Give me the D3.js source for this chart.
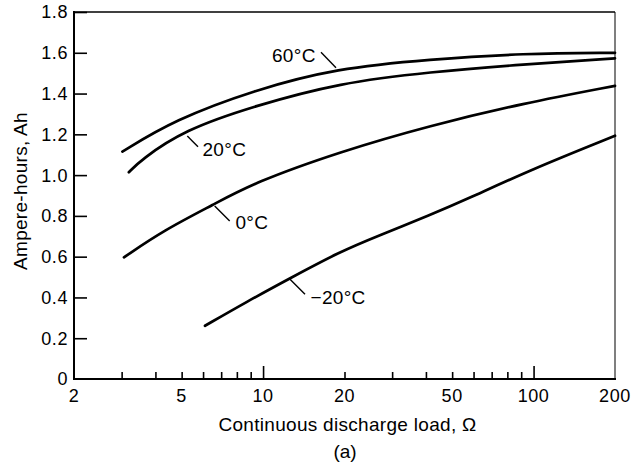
<!DOCTYPE html>
<html>
<head>
<meta charset="utf-8">
<script src="https://cdn.jsdelivr.net/npm/d3@7"></script>
<style>
  body { margin: 0; background: #fff; }
  text { font-family: "Liberation Sans", Arial, sans-serif; fill: #000; }
</style>
</head>
<body>
<div id="chart"></div>
<script>
// load in ohms, capacity in Ah
const load60 = [3.02, 4.69, 9.26, 18.7, 41.4, 91.6, 200];
const ah60 = [1.115, 1.27, 1.417, 1.524, 1.568, 1.597, 1.6];
const load20 = [3.19, 3.53, 5.1, 9.26, 19.25, 41.4, 91.6, 200];
const ah20 = [1.014, 1.074, 1.221, 1.339, 1.453, 1.506, 1.543, 1.573];
const load0 = [3.06, 4.3, 6.59, 9.26, 19.25, 41.4, 91.6, 200];
const ah0 = [0.597, 0.73, 0.857, 0.963, 1.115, 1.243, 1.352, 1.438];
const loadM20 = [6.1, 8.7, 12.58, 19.25, 27.1, 41.4, 56.6, 97, 200];
const ahM20 = [0.261, 0.379, 0.494, 0.625, 0.706, 0.804, 0.881, 1.025, 1.193];

const xTickLabels = [2, 5, 10, 20, 50, 100, 200];
const xMinorTicks = [3, 4, 5, 6, 7, 8, 9, 20, 30, 40, 50, 60, 70, 80, 90];
const xMajorTicks = [10, 100];
const yTicks = [0, 0.2, 0.4, 0.6, 0.8, 1.0, 1.2, 1.4, 1.6, 1.8];

const series = [
    {name: '60°C', x: load60, y: ah60, label: [272, 61.5], lead: [[321, 52.3], [336, 67.7]]},
    {name: '20°C', x: load20, y: ah20, label: [202.5, 156], lead: [[187.3, 136], [198, 146.7]]},
    {name: '0°C', x: load0, y: ah0, label: [235.5, 229.3], lead: [[214.7, 206], [229.7, 221]]},
    {name: '−20°C', x: loadM20, y: ahM20, label: [310.5, 304], lead: [[290, 279.3], [305, 294.3]]}
];

const W = 634, H = 469;
const mLeft = 74, mRight = 615, mTop = 12, mBottom = 379;

const svg = d3.select('#chart').append('svg')
    .attr('width', W)
    .attr('height', H);

const x = d3.scaleLog().domain([2, 200]).range([mLeft, mRight]);
const y = d3.scaleLinear().domain([0, 1.8]).range([mBottom, mTop]);

// frame
svg.append('line').attr('x1', mRight).attr('x2', mRight).attr('y1', mTop).attr('y2', mBottom)
    .attr('stroke', '#555').attr('stroke-width', 1.5);
svg.append('line').attr('x1', mLeft).attr('x2', mRight).attr('y1', mTop).attr('y2', mTop)
    .attr('stroke', '#000').attr('stroke-width', 1.5);

// y axis, ticks pointing inward
const yAxis = svg.append('g')
    .attr('transform', 'translate(' + mLeft + ',0)')
    .call(d3.axisRight(y).tickValues(yTicks.slice(1)).tickSize(13).tickFormat(''));
yAxis.select('.domain').remove();

svg.selectAll('.ylab')
    .data(yTicks)
    .enter()
    .append('text')
    .attr('class', 'ylab')
    .attr('x', 68)
    .attr('y', d => y(d))
    .attr('dy', '0.36em')
    .attr('text-anchor', 'end')
    .style('font-size', '18px')
    .style('letter-spacing', '0.6px')
    .text(d => d === 0 ? '0' : d.toFixed(1));

// x axis, ticks pointing up
const xMinor = svg.append('g')
    .attr('transform', 'translate(0,' + mBottom + ')')
    .call(d3.axisTop(x).tickValues(xMinorTicks).tickSize(7).tickFormat(''));
xMinor.select('.domain').remove();
const xMajor = svg.append('g')
    .attr('transform', 'translate(0,' + mBottom + ')')
    .call(d3.axisTop(x).tickValues(xMajorTicks).tickSize(13).tickFormat(''));
xMajor.select('.domain').remove();
svg.selectAll('.tick line').attr('stroke', '#000').attr('stroke-width', 1.6);

svg.selectAll('.xlab')
    .data(xTickLabels)
    .enter()
    .append('text')
    .attr('class', 'xlab')
    .attr('x', d => x(d))
    .attr('y', 402)
    .attr('text-anchor', 'middle')
    .style('font-size', '18px')
    .style('letter-spacing', '0.6px')
    .text(d => d);

// main spines
svg.append('line').attr('x1', mLeft).attr('x2', mLeft).attr('y1', mTop - 1).attr('y2', mBottom + 1)
    .attr('stroke', '#000').attr('stroke-width', 2);
svg.append('line').attr('x1', mLeft - 1).attr('x2', mRight + 1).attr('y1', mBottom).attr('y2', mBottom)
    .attr('stroke', '#000').attr('stroke-width', 2);

// curves
const line = d3.line()
    .x(d => x(d[0]))
    .y(d => y(d[1]))
    .curve(d3.curveBasis);

series.forEach(s => {
    svg.append('path')
        .datum(d3.zip(s.x, s.y))
        .attr('d', line)
        .attr('fill', 'none')
        .attr('stroke', '#000')
        .attr('stroke-width', 2.7)
        .attr('stroke-linecap', 'round');
    svg.append('line')
        .attr('x1', s.lead[0][0]).attr('y1', s.lead[0][1])
        .attr('x2', s.lead[1][0]).attr('y2', s.lead[1][1])
        .attr('stroke', '#000').attr('stroke-width', 1.4);
    svg.append('text')
        .attr('x', s.label[0])
        .attr('y', s.label[1])
        .style('font-size', '19px')
        .style('letter-spacing', '0.3px')
        .text(s.name);
});

// titles
svg.append('text')
    .attr('x', 347.5)
    .attr('y', 431)
    .attr('text-anchor', 'middle')
    .style('font-size', '19px')
    .style('letter-spacing', '0.3px')
    .text('Continuous discharge load, Ω');

svg.append('text')
    .attr('transform', 'translate(27,191) rotate(-90)')
    .attr('text-anchor', 'middle')
    .style('font-size', '19px')
    .style('letter-spacing', '0.3px')
    .text('Ampere-hours, Ah');

svg.append('text')
    .attr('x', 345)
    .attr('y', 458)
    .attr('text-anchor', 'middle')
    .style('font-size', '19px')
    .text('(a)');
</script>
</body>
</html>
